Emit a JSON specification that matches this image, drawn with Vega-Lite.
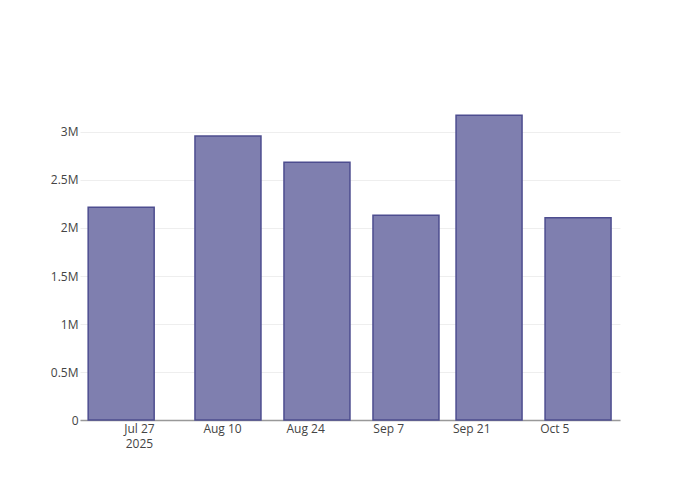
{
  "$schema": "https://vega.github.io/schema/vega-lite/v6.json",
  "autosize": {"type": "none"},
  "width": 540,
  "height": 320,
  "padding": {"left": 80, "top": 100, "right": 80, "bottom": 80},
  "background": "white",
  "config": {
    "view": {"stroke": null},
    "font": "Open Sans",
    "axis": {"labelFont": "Open Sans", "labelFontSize": 12, "labelColor": "#444"}
  },
  "data": {
    "values": [
      {"date": "2025-07-24", "value": 2216000},
      {"date": "2025-08-11", "value": 2958000},
      {"date": "2025-08-26", "value": 2684000},
      {"date": "2025-09-10", "value": 2132000},
      {"date": "2025-09-24", "value": 3174000},
      {"date": "2025-10-09", "value": 2107000}
    ]
  },
  "mark": {"type": "bar", "size": 66, "fill": "#7f7faf", "stroke": "#4d4d8f", "strokeWidth": 1.5, "opacity": 1},
  "encoding": {
    "x": {
      "field": "date",
      "type": "temporal",
      "scale": {
        "type": "utc",
        "nice": false,
        "padding": 0,
        "domain": [
          {"year": 2025, "month": 7, "date": 17, "hours": 1, "minutes": 30, "utc": true},
          {"year": 2025, "month": 10, "date": 16, "hours": 1, "minutes": 40, "utc": true}
        ]
      },
      "axis": {
        "title": null,
        "grid": false,
        "ticks": false,
        "domain": true,
        "domainColor": "#999",
        "domainWidth": 1.5,
        "labelPadding": 3,
        "labelLineHeight": 15,
        "labelFlush": false,
        "labelOverlap": false,
        "values": [
          {"year": 2025, "month": 7, "date": 27, "utc": true},
          {"year": 2025, "month": 8, "date": 10, "utc": true},
          {"year": 2025, "month": 8, "date": 24, "utc": true},
          {"year": 2025, "month": 9, "date": 7, "utc": true},
          {"year": 2025, "month": 9, "date": 21, "utc": true},
          {"year": 2025, "month": 10, "date": 5, "utc": true}
        ],
        "labelExpr": "utcmonth(datum.value) == 6 ? [utcFormat(datum.value, '%b %-d'), '2025'] : utcFormat(datum.value, '%b %-d')"
      }
    },
    "y": {
      "field": "value",
      "type": "quantitative",
      "scale": {"domain": [0, 3333333], "nice": false, "zero": true},
      "axis": {
        "title": null,
        "domain": false,
        "ticks": false,
        "grid": true,
        "gridColor": "#eee",
        "gridWidth": 1,
        "labelPadding": 2,
        "values": [0, 500000, 1000000, 1500000, 2000000, 2500000, 3000000],
        "labelExpr": "datum.value == 0 ? '0' : (datum.value / 1000000) + 'M'"
      }
    }
  }
}
